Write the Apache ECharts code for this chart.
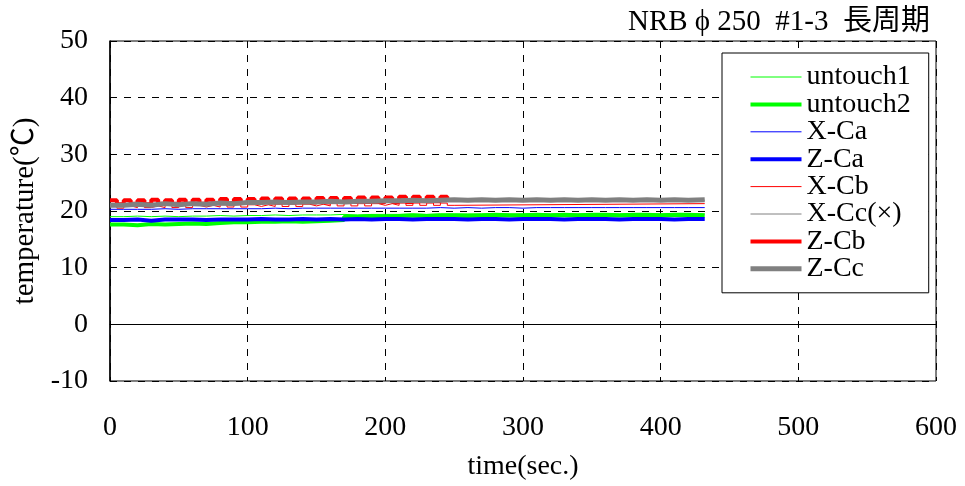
<!DOCTYPE html>
<html>
<head>
<meta charset="utf-8">
<script src="https://cdn.jsdelivr.net/npm/echarts@6/dist/echarts.min.js"></script>
<style>
  html, body { margin: 0; padding: 0; background: #fff; }
  #chart { width: 965px; height: 486px; }
</style>
</head>
<body>
<div id="chart"></div>
<script>
// sample times (sec.)
const t10 = [0, 10, 20, 30, 40, 50, 60, 70, 80, 90, 100, 110, 120, 130, 140, 150, 160, 170, 180, 190, 200, 210,
  220, 230, 240, 250, 260, 270, 280, 290, 300, 310, 320, 330, 340, 350, 360, 370, 380, 390, 400, 410, 420, 432];
const t5 = [0, 5, 10, 15, 20, 25, 30, 35, 40, 45, 50, 55, 60, 65, 70, 75, 80, 85, 90, 95, 100, 105, 110, 115, 120,
  125, 130, 135, 140, 145, 150, 155, 160, 165, 170, 175, 180, 185, 190, 195, 200, 205, 210, 215, 220, 225, 230, 235, 240, 245];
const tCb = t5.concat([250, 432]);

const untouch1 = [19.0, 19.1, 19.0, 19.1, 19.0, 19.1, 19.1, 19.2, 19.1, 19.2, 19.2, 19.3, 19.2, 19.3, 19.3, 19.3, 19.4, 19.3, 19.4, 19.4, 19.4, 19.5,
  19.4, 19.5, 19.5, 19.5, 19.5, 19.6, 19.5, 19.5, 19.6, 19.5, 19.6, 19.5, 19.6, 19.6, 19.5, 19.6, 19.6, 19.5, 19.6, 19.6, 19.5, 19.6];
const untouch2 = [17.6, 17.5, 17.7, 17.6, 17.7, 17.8, 17.7, 17.9, 18.0, 18.0, 18.1, 18.1, 18.2, 18.1, 18.2, 18.3, 18.4, 19.0, 19.1, 19.0, 19.1, 19.2,
  19.1, 19.2, 19.2, 19.1, 19.2, 19.3, 19.2, 19.2, 19.3, 19.2, 19.3, 19.2, 19.3, 19.3, 19.2, 19.3, 19.3, 19.2, 19.3, 19.3, 19.2, 19.3];
const xCa = [20.3, 20.3, 20.3, 20.4, 20.3, 20.4, 20.4, 20.4, 20.4, 20.4, 20.4, 20.5, 20.4, 20.5, 20.5, 20.5, 20.5, 20.5, 20.5, 20.5, 20.5, 20.5,
  20.5, 20.6, 20.5, 20.6, 20.5, 20.6, 20.6, 20.5, 20.6, 20.6, 20.6, 20.6, 20.6, 20.6, 20.6, 20.6, 20.6, 20.6, 20.6, 20.6, 20.6, 20.6];
const zCa = [18.4, 18.5, 18.3, 18.5, 18.5, 18.5, 18.4, 18.5, 18.5, 18.5, 18.6, 18.5, 18.5, 18.6, 18.5, 18.6, 18.5, 18.6, 18.5, 18.6, 18.6, 18.5,
  18.6, 18.6, 18.6, 18.5, 18.6, 18.6, 18.5, 18.6, 18.6, 18.6, 18.5, 18.6, 18.6, 18.6, 18.5, 18.6, 18.6, 18.6, 18.5, 18.6, 18.6, 18.5];
const xCb = [20.9, 20.5, 20.9, 20.6, 21.0, 20.6, 20.9, 20.6, 21.0, 20.6, 21.0, 20.6, 21.0, 20.7, 21.0, 20.7, 21.1, 20.7, 21.1, 20.7, 21.1, 20.8, 21.1, 20.8, 21.2,
  20.8, 21.2, 20.8, 21.2, 20.9, 21.2, 20.9, 21.3, 20.9, 21.3, 20.9, 21.3, 20.9, 21.3, 21.0, 21.3, 21.0, 21.4, 21.0, 21.4, 21.0, 21.4, 21.0, 21.4, 21.0,
  21.3, 21.3];
const xCc = [21.1, 21.2, 21.1, 21.3, 21.2, 21.3, 21.3, 21.4, 21.3, 21.5, 21.5, 21.5, 21.5, 21.6, 21.6, 21.6, 21.6, 21.7, 21.7, 21.8, 21.8, 21.8,
  21.8, 21.9, 21.9, 21.9, 21.9, 21.9, 21.9, 21.9, 21.9, 21.9, 21.9, 21.9, 21.9, 21.9, 21.9, 21.9, 21.9, 21.9, 21.9, 21.9, 21.9, 21.9];
const zCb = [21.9, 21.2, 21.9, 21.3, 21.9, 21.2, 22.0, 21.3, 21.9, 21.3, 22.0, 21.3, 22.0, 21.3, 22.0, 21.4, 22.1, 21.4, 22.1, 21.4, 22.1, 21.4, 22.2, 21.5, 22.2,
  21.5, 22.2, 21.5, 22.2, 21.5, 22.3, 21.5, 22.3, 21.6, 22.3, 21.6, 22.4, 21.6, 22.4, 21.6, 22.4, 21.6, 22.5, 21.6, 22.5, 21.7, 22.5, 21.7, 22.5, 21.7];
const zCc = [21.0, 21.2, 21.0, 21.3, 21.1, 21.3, 21.2, 21.4, 21.3, 21.5, 21.5, 21.6, 21.5, 21.6, 21.6, 21.7, 21.6, 21.7, 21.7, 21.8, 21.8, 21.9,
  21.8, 21.9, 22.0, 21.9, 22.0, 21.9, 22.0, 21.9, 22.0, 21.9, 22.0, 21.9, 22.0, 21.9, 22.0, 21.9, 22.0, 21.9, 22.0, 21.9, 22.0, 22.0];

const xTicks = [0, 100, 200, 300, 400, 500, 600];
const yTicks = [-10, 0, 10, 20, 30, 40, 50];

const FONT = "'Liberation Serif', 'Times New Roman', 'Noto Sans CJK JP', serif";
const pairs = (ts, vs) => vs.map((v, i) => [ts[i], v]);

function line(name, ts, vs, color, width) {
  return {
    name: name,
    type: 'line',
    data: pairs(ts, vs),
    step: 'end',
    symbol: 'none',
    color: color,
    itemStyle: { color: color },
    lineStyle: { color: color, width: width }
  };
}

const series = [
  line('untouch1', t10, untouch1, '#00ff00', 1),
  line('untouch2', t10, untouch2, '#00ff00', 4),
  line('X-Ca', t10, xCa, '#0000ff', 1),
  line('Z-Ca', t10, zCa, '#0000ff', 4),
  line('X-Cb', tCb, xCb, '#ff0000', 1),
  line('X-Cc(×)', t10, xCc, '#808080', 1),
  line('Z-Cb', t5, zCb, '#ff0000', 4),
  line('Z-Cc', t10, zCc, '#808080', 5)
];

// solid line at 0
series[0].markLine = {
  silent: true,
  symbol: 'none',
  label: { show: false },
  lineStyle: { color: '#000', type: 'solid', width: 1 },
  data: [{ yAxis: 0 }]
};

const chart = echarts.init(document.getElementById('chart'));
chart.setOption({
  animation: false,
  backgroundColor: '#fff',
  textStyle: { fontFamily: FONT },
  title: {
    text: 'NRB ϕ 250  #1-3  長周期',
    right: 30,
    top: 3,
    textStyle: { fontFamily: FONT, fontSize: 29, fontWeight: 'normal', color: '#000' }
  },
  grid: {
    left: 110, right: 29, top: 41, bottom: 105,
    show: true, borderColor: '#000', borderWidth: 1
  },
  legend: {
    orient: 'vertical',
    left: 722,
    top: 53,
    padding: [10, 18, 10, 26],
    backgroundColor: '#fff',
    borderColor: '#000',
    borderWidth: 1,
    borderRadius: 0,
    itemWidth: 51,
    itemHeight: 14,
    itemGap: -0.6,
    itemStyle: { opacity: 0 },
    lineStyle: { width: 'inherit' },
    textStyle: { fontFamily: FONT, fontSize: 28, color: '#000' },
    data: series.map(s => s.name)
  },
  xAxis: {
    type: 'value',
    min: xTicks[0],
    max: xTicks[xTicks.length - 1],
    interval: 100,
    name: 'time(sec.)',
    nameLocation: 'middle',
    nameGap: 72,
    nameTextStyle: { fontFamily: FONT, fontSize: 28, color: '#000' },
    axisLine: { lineStyle: { color: '#000', width: 1 } },
    axisTick: { show: false },
    axisLabel: { margin: 33, fontFamily: FONT, fontSize: 28, color: '#000' },
    splitLine: { show: true, lineStyle: { color: '#000', type: [7, 7], width: 1 } }
  },
  yAxis: {
    type: 'value',
    min: yTicks[0],
    max: yTicks[yTicks.length - 1],
    interval: 10,
    name: 'temperature(℃)',
    nameLocation: 'middle',
    nameGap: 61,
    nameTextStyle: { fontFamily: FONT, fontSize: 29, color: '#000' },
    axisLine: { show: true, lineStyle: { color: '#000', width: 1.5 } },
    axisTick: { show: false },
    axisLabel: { margin: 22, fontFamily: FONT, fontSize: 28, color: '#000' },
    splitLine: { show: true, lineStyle: { color: '#000', type: [7, 7], width: 1 } }
  },
  series: series
});
</script>
</body>
</html>
